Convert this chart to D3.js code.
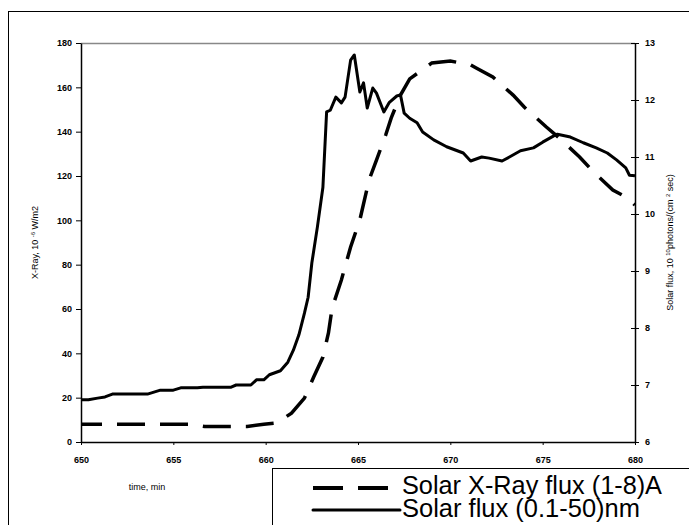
<!DOCTYPE html>
<html>
<head>
<meta charset="utf-8">
<title>Solar flux</title>
<style>
  body { margin: 0; background: #fff; }
  svg { font-family: Arial, "Liberation Sans", sans-serif; }
  .tick text { font-weight: bold; font-size: 9px; fill: #000; }
</style>
</head>
<body>
<svg id="chart" width="689" height="525"></svg>
<script src="https://cdn.jsdelivr.net/npm/d3@7"></script>
<script>
// X-Ray flux (left axis, 10^-6 W/m2)
const xrayTime = [650, 655.9, 656.7, 658.2, 659.0, 659.9, 660.6, 661.4, 662.1, 662.6, 663.1, 663.4, 663.6, 664.1, 664.6, 665.1, 665.6, 666.0, 666.5, 666.8, 667.3, 667.8, 669.0, 670.0, 671.1, 671.4, 672.3, 673.4, 674.0, 675.2, 675.9, 677.0, 677.7, 678.8, 679.6, 680]
const xrayFlux = [8, 8, 7, 7, 7, 8, 8.6, 13, 19.8, 29.3, 38.3, 49.2, 60.5, 73.1, 88, 100.2, 118.2, 127.2, 138.5, 146.2, 156.5, 163.8, 171, 171.9, 170.1, 168.7, 164.7, 156.5, 151.1, 142.1, 137.1, 128.6, 122.3, 113.7, 110.1, 106.9]

// Solar flux (right axis, 10^10 photons/(cm2 sec))
const solarTime = [650, 650.4, 650.9, 651.3, 651.7, 653.6, 654.3, 655.0, 655.4, 656.3, 656.6, 658.1, 658.4, 659.2, 659.5, 659.9, 660.2, 660.8, 661.2, 661.5, 661.8, 662.1, 662.3, 662.5, 662.8, 663.1, 663.3, 663.5, 663.8, 664.1, 664.3, 664.6, 664.8, 665.1, 665.3, 665.5, 665.8, 666.0, 666.4, 666.7, 667.1, 667.3, 667.5, 667.8, 668.2, 668.5, 669.1, 669.8, 670.7, 671.1, 671.7, 672.1, 672.8, 673.2, 673.8, 674.5, 675.0, 675.6, 675.8, 676.5, 677.2, 677.9, 678.5, 679.0, 679.5, 679.7, 680]
const solarFlux = [6.74, 6.74, 6.77, 6.79, 6.84, 6.84, 6.91, 6.91, 6.95, 6.95, 6.96, 6.96, 7.0, 7.0, 7.09, 7.09, 7.18, 7.25, 7.4, 7.61, 7.88, 8.26, 8.54, 9.14, 9.77, 10.47, 11.79, 11.82, 12.05, 11.95, 12.05, 12.7, 12.79, 12.14, 12.3, 11.86, 12.21, 12.12, 11.79, 11.96, 12.07, 12.09, 11.77, 11.68, 11.6, 11.44, 11.3, 11.18, 11.07, 10.93, 11.0, 10.98, 10.93, 11.0, 11.11, 11.16, 11.26, 11.37, 11.4, 11.35, 11.25, 11.16, 11.07, 10.95, 10.81, 10.68, 10.67]

const timeTicks = [650, 655, 660, 665, 670, 675, 680]
const leftTicks = [0, 20, 40, 60, 80, 100, 120, 140, 160, 180]
const rightTicks = [6, 7, 8, 9, 10, 11, 12, 13]
const legendLabels = ["Solar X-Ray flux (1-8)A", "Solar flux (0.1-50)nm"]

let svg = d3.select("#chart")
let pLeft = 81, pRight = 635, pTop = 43, pBottom = 442

// outer frame
svg.append("rect")
  .attr("x", 8.5).attr("y", 11.5)
  .attr("width", 700).attr("height", 600)
  .attr("fill", "white").attr("stroke", "#000").attr("stroke-width", 1)

let x = d3.scaleLinear().domain([650, 680]).range([pLeft, pRight])
let yL = d3.scaleLinear().domain([0, 180]).range([pBottom, pTop])
let yR = d3.scaleLinear().domain([6, 13]).range([pBottom, pTop])

// grey top border of plot area
svg.append("line")
  .attr("x1", pLeft).attr("x2", pRight)
  .attr("y1", pTop + 0.5).attr("y2", pTop + 0.5)
  .attr("stroke", "#888").attr("stroke-width", 1.5)

let fmt = d3.format("d")
let xAxis = svg.append("g")
  .attr("transform", `translate(0,${pBottom})`)
  .call(d3.axisBottom(x).tickValues(timeTicks).tickFormat(fmt).tickSize(3).tickSizeOuter(0).tickPadding(12))
let lAxis = svg.append("g")
  .attr("transform", `translate(${pLeft},0)`)
  .call(d3.axisLeft(yL).tickValues(leftTicks).tickFormat(fmt).tickSize(5).tickSizeOuter(0).tickPadding(4))
let rAxis = svg.append("g")
  .attr("transform", `translate(${pRight},0)`)
  .call(d3.axisRight(yR).tickValues(rightTicks).tickFormat(fmt).tickSize(4).tickSizeOuter(0).tickPadding(6))
rAxis.selectAll(".tick line").attr("x1", -4)

svg.selectAll(".domain").attr("stroke", "#000").attr("stroke-width", 1.5)
svg.selectAll(".tick line").attr("stroke", "#000").attr("stroke-width", 1)

// axis titles
let lt = svg.append("text")
  .attr("transform", `translate(38,${(pTop + pBottom) / 2}) rotate(-90)`)
  .attr("text-anchor", "middle").attr("font-size", 9)
lt.append("tspan").text("X-Ray, 10 ")
lt.append("tspan").attr("font-size", 6).attr("dy", -3).text("-6")
lt.append("tspan").attr("dy", 3).text(" W/m2")

let rt = svg.append("text")
  .attr("transform", `translate(673,${(pTop + pBottom) / 2}) rotate(-90)`)
  .attr("text-anchor", "middle").attr("font-size", 9)
rt.append("tspan").text("Solar flux, 10 ")
rt.append("tspan").attr("font-size", 6).attr("dy", -3).text("10")
rt.append("tspan").attr("dy", 3).text("photons/(cm ")
rt.append("tspan").attr("font-size", 6).attr("dy", -3).text("2")
rt.append("tspan").attr("dy", 3).text(" sec)")

svg.append("text")
  .attr("x", 147).attr("y", 490)
  .attr("text-anchor", "middle").attr("font-size", 9)
  .text("time, min")

// series
let xrayData = xrayTime.map((t, i) => [t, xrayFlux[i]])
let solarData = solarTime.map((t, i) => [t, solarFlux[i]])

svg.append("path")
  .datum(xrayData)
  .attr("fill", "none").attr("stroke", "#000").attr("stroke-width", 3.5)
  .attr("stroke-dasharray", "28,15").attr("stroke-dashoffset", 7)
  .attr("d", d3.line().x(d => x(d[0])).y(d => yL(d[1])))

svg.append("path")
  .datum(solarData)
  .attr("fill", "none").attr("stroke", "#000").attr("stroke-width", 3)
  .attr("stroke-linejoin", "round")
  .attr("d", d3.line().x(d => x(d[0])).y(d => yR(d[1])))

// legend
let lg = svg.append("g")
lg.append("rect")
  .attr("x", 272.5).attr("y", 468.5)
  .attr("width", 500).attr("height", 100)
  .attr("fill", "white").attr("stroke", "#000").attr("stroke-width", 1)
lg.append("line")
  .attr("x1", 313).attr("x2", 390).attr("y1", 488).attr("y2", 488)
  .attr("stroke", "#000").attr("stroke-width", 4).attr("stroke-dasharray", "30,15")
lg.append("line")
  .attr("x1", 313).attr("x2", 400).attr("y1", 510).attr("y2", 510)
  .attr("stroke", "#000").attr("stroke-width", 3).attr("stroke-linecap", "round")
lg.selectAll("text.lg")
  .data(legendLabels)
  .enter().append("text")
  .attr("class", "lg")
  .attr("x", 402).attr("y", (d, i) => 494 + i * 23)
  .attr("font-size", 25)
  .attr("textLength", (d, i) => i == 0 ? 260 : 238)
  .attr("lengthAdjust", "spacingAndGlyphs")
  .text(d => d)
</script>
</body>
</html>
